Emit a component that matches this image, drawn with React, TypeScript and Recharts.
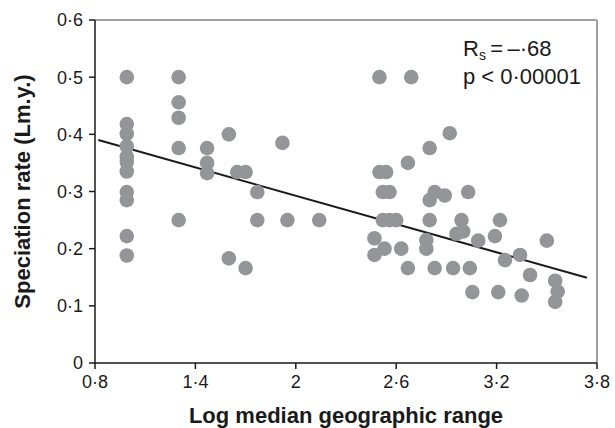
import React from 'react';
import { ScatterChart, Scatter, XAxis, YAxis, ReferenceLine, Customized } from 'recharts';

const rangeX: number[] = [
  0.99, 0.99, 0.99, 0.99, 0.99, 0.99, 0.99, 0.99, 0.99, 0.99, 0.99,
  1.30, 1.30, 1.30, 1.30, 1.30,
  1.47, 1.47, 1.47,
  1.60, 1.60, 1.65, 1.70, 1.70, 1.77, 1.77,
  1.92, 1.95, 2.14,
  2.47, 2.47, 2.50, 2.50, 2.52, 2.52, 2.53, 2.54, 2.56, 2.56, 2.60, 2.63,
  2.67, 2.67, 2.69, 2.78, 2.78, 2.80, 2.80, 2.80, 2.83, 2.83, 2.89, 2.92, 2.94,
  2.96, 2.99, 3.00, 3.03, 3.04, 3.055, 3.09, 3.19, 3.21, 3.22, 3.25,
  3.34, 3.35, 3.40, 3.50, 3.55, 3.55, 3.565,
];
const rateY: number[] = [
  0.5, 0.418, 0.401, 0.379, 0.361, 0.352, 0.335, 0.299, 0.285, 0.222, 0.188,
  0.5, 0.456, 0.429, 0.376, 0.25,
  0.376, 0.35, 0.332,
  0.40, 0.183, 0.334, 0.334, 0.166, 0.299, 0.25,
  0.385, 0.25, 0.25,
  0.218, 0.189, 0.5, 0.334, 0.299, 0.25, 0.20, 0.334, 0.299, 0.25, 0.25, 0.20,
  0.35, 0.166, 0.5, 0.215, 0.20, 0.376, 0.285, 0.25, 0.299, 0.166, 0.293, 0.402, 0.166,
  0.226, 0.25, 0.23, 0.299, 0.166, 0.124, 0.214, 0.222, 0.124, 0.25, 0.18,
  0.189, 0.118, 0.154, 0.214, 0.144, 0.107, 0.125,
];
const xTicks: number[] = [0.8, 1.4, 2, 2.6, 3.2, 3.8];
const yTicks: number[] = [0, 0.1, 0.2, 0.3, 0.4, 0.5, 0.6];
const fitX: number[] = [0.82, 3.74];
const fitY: number[] = [0.39, 0.149];

const points = rangeX.map((x, i) => ({ x, y: rateY[i] }));
const fitSegment = fitX.map((x, i) => ({ x, y: fitY[i] }));

const FONT = '"Liberation Sans", Arial, Helvetica, sans-serif';
const fmt = (v: number) => String(v).replace('.', '\u00B7');

const Dot = (props: any) => (
  <circle cx={props.cx} cy={props.cy} r={7.3} fill="#939598" />
);

const Annotation = () => (
  <g fontFamily={FONT} fill="#1a1a1a">
    <text x={463} y={56} fontSize={22}>
      R<tspan fontSize={14} dy={4}>s</tspan>
      <tspan dy={-4}>{'\u2009=\u2009\u2013\u00B768'}</tspan>
    </text>
    <text x={463} y={84} fontSize={22}>{'p < 0\u00B700001'}</text>
  </g>
);

export default function App() {
  return (
    <div style={{ position: 'absolute', left: 0, top: 0, background: '#fff' }}>
      <ScatterChart
        width={615}
        height={428}
        margin={{ top: 20, right: 18, bottom: 0, left: 0 }}
      >
        <XAxis
          type="number"
          dataKey="x"
          domain={[0.8, 3.8]}
          ticks={xTicks}
          tickFormatter={fmt}
          height={65}
          stroke="#1a1a1a"
          strokeWidth={1.5}
          tickSize={6}
          tickMargin={6}
          tick={{ fill: '#1a1a1a', fontSize: 18, fontFamily: FONT }}
          label={{
            value: 'Log median geographic range',
            position: 'center',
            dy: 20,
            style: { fill: '#1a1a1a', fontSize: 22, fontWeight: 'bold', fontFamily: FONT },
          }}
        />
        <YAxis
          type="number"
          dataKey="y"
          domain={[0, 0.6]}
          ticks={yTicks}
          tickFormatter={fmt}
          width={95}
          stroke="#1a1a1a"
          strokeWidth={1.5}
          tickSize={6}
          tickMargin={6}
          tick={{ fill: '#1a1a1a', fontSize: 18, fontFamily: FONT }}
          label={{
            value: 'Speciation rate (Lm.y.)',
            angle: -90,
            position: 'center',
            dx: -25,
            style: { fill: '#1a1a1a', fontSize: 22, fontWeight: 'bold', fontFamily: FONT, textAnchor: 'middle' },
          }}
        />
        <ReferenceLine y={0.6} stroke="#a0a0a0" strokeWidth={2} />
        <ReferenceLine x={3.8} stroke="#a0a0a0" strokeWidth={2} />
        <Scatter data={points} shape={Dot} isAnimationActive={false} />
        <ReferenceLine segment={fitSegment} stroke="#1a1a1a" strokeWidth={2} />
        <Customized component={Annotation} />
      </ScatterChart>
    </div>
  );
}
